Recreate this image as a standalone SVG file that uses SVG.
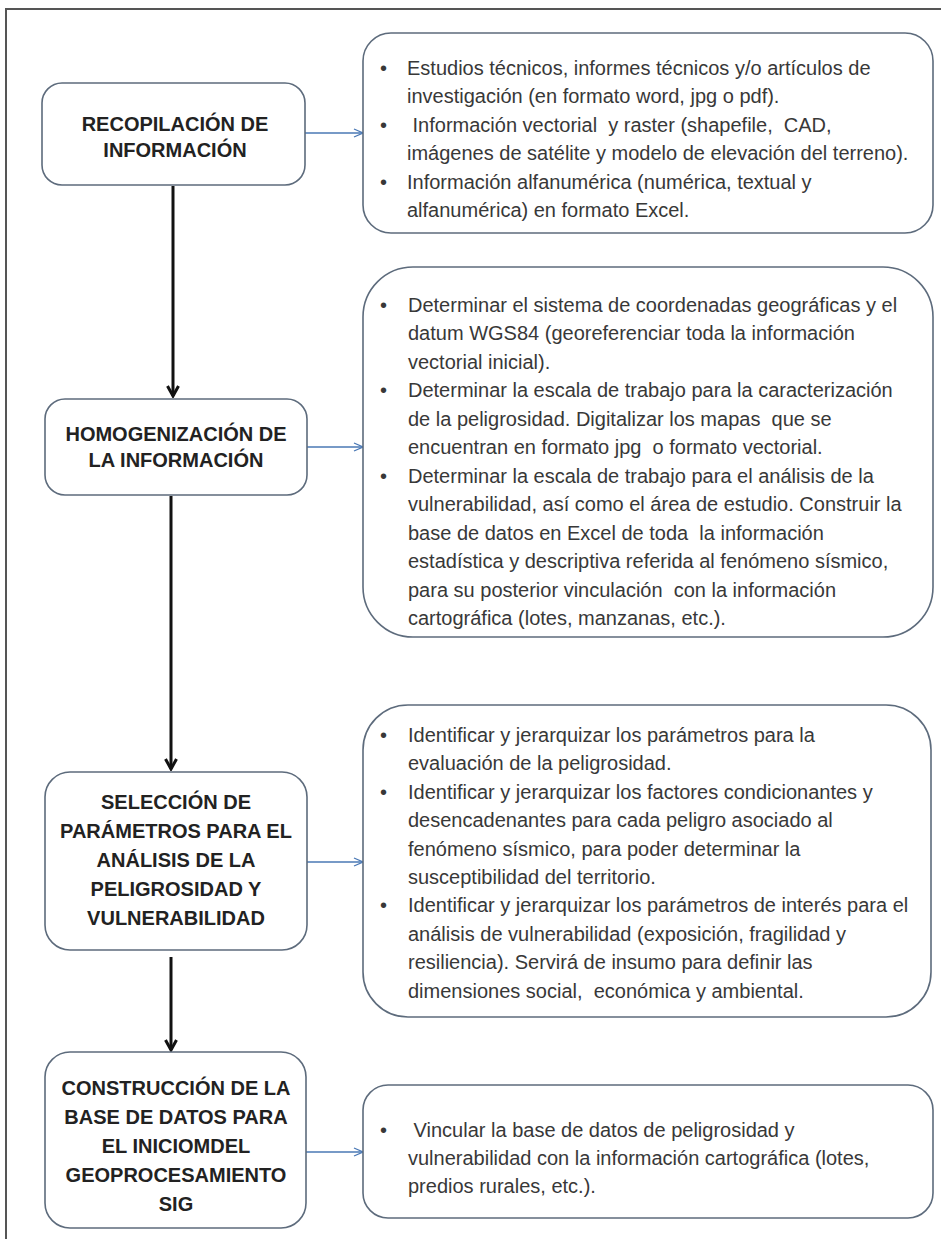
<svg xmlns="http://www.w3.org/2000/svg" width="941" height="1239" viewBox="0 0 941 1239">
<style>
.frame{fill:none;stroke:#555;stroke-width:2}
.lbox{fill:#fff;stroke:#5d6b7c;stroke-width:1.6}
.rbox{fill:#fff;stroke:#5d6b7c;stroke-width:1.6}
.lt{font-family:"Liberation Sans",Arial,sans-serif;font-weight:bold;font-size:20px;fill:#222;text-anchor:middle}
.rt{font-family:"Liberation Sans",Arial,sans-serif;font-size:20px;fill:#383838}
.blue{stroke:#4a78b5;stroke-width:1.4;fill:none}
.black{stroke:#111;stroke-width:3;fill:none}
</style>
<defs>
<marker id="ab" viewBox="0 0 10 10" refX="10" refY="5" markerWidth="10" markerHeight="10" markerUnits="userSpaceOnUse" orient="auto">
<path d="M1,1 L10,5 L1,9" fill="none" stroke="#4a78b5" stroke-width="1.3"/>
</marker>
<marker id="ak" viewBox="0 0 14 14" refX="12" refY="7" markerWidth="14" markerHeight="14" markerUnits="userSpaceOnUse" orient="auto">
<path d="M2,1.5 L12,7 L2,12.5" fill="none" stroke="#111" stroke-width="3"/>
</marker>
</defs>
<rect width="941" height="1239" fill="#fff"/>
<path class="frame" d="M6,1239 V9 H941"/>

<g id="connectors">
<line class="black" x1="173" y1="186" x2="173" y2="396" marker-end="url(#ak)"/>
<line class="black" x1="171" y1="496" x2="171" y2="769" marker-end="url(#ak)"/>
<line class="black" x1="171" y1="957" x2="171" y2="1050" marker-end="url(#ak)"/>
<line class="blue" x1="305" y1="133" x2="363" y2="133" marker-end="url(#ab)"/>
<line class="blue" x1="307" y1="447" x2="363" y2="447" marker-end="url(#ab)"/>
<line class="blue" x1="307" y1="862" x2="363" y2="862" marker-end="url(#ab)"/>
<line class="blue" x1="306" y1="1152" x2="363" y2="1152" marker-end="url(#ab)"/>
</g>

<g id="n1">
<rect class="lbox" x="42" y="83" width="263" height="102" rx="20"/>
<text class="lt" x="175" y="131">RECOPILACIÓN DE</text>
<text class="lt" x="175" y="157">INFORMACIÓN</text>
</g>
<g id="n2">
<rect class="lbox" x="45" y="399" width="262" height="96" rx="20"/>
<text class="lt" x="176" y="441">HOMOGENIZACIÓN DE</text>
<text class="lt" x="176" y="467">LA INFORMACIÓN</text>
</g>
<g id="n3">
<rect class="lbox" x="45" y="772" width="262" height="178" rx="25"/>
<text class="lt" x="176" y="809">SELECCIÓN DE</text>
<text class="lt" x="176" y="838">PARÁMETROS PARA EL</text>
<text class="lt" x="176" y="867">ANÁLISIS DE LA</text>
<text class="lt" x="176" y="896">PELIGROSIDAD Y</text>
<text class="lt" x="176" y="925">VULNERABILIDAD</text>
</g>
<g id="n4">
<rect class="lbox" x="45" y="1052" width="261" height="176" rx="25"/>
<text class="lt" x="176" y="1095">CONSTRUCCIÓN DE LA</text>
<text class="lt" x="176" y="1124">BASE DE DATOS PARA</text>
<text class="lt" x="176" y="1153">EL INICIOMDEL</text>
<text class="lt" x="176" y="1182">GEOPROCESAMIENTO</text>
<text class="lt" x="176" y="1211">SIG</text>
</g>

<g id="r1">
<rect class="rbox" x="363" y="33" width="570" height="200" rx="28"/>
<text class="rt" x="380" y="75">•</text>
<text class="rt" x="407" y="75">Estudios técnicos, informes técnicos y/o artículos de</text>
<text class="rt" x="407" y="103">investigación (en formato word, jpg o pdf).</text>
<text class="rt" x="380" y="132">•</text>
<text class="rt" x="407" y="132" xml:space="preserve"> Información vectorial  y raster (shapefile,  CAD,</text>
<text class="rt" x="407" y="160">imágenes de satélite y modelo de elevación del terreno).</text>
<text class="rt" x="380" y="189">•</text>
<text class="rt" x="407" y="189">Información alfanumérica (numérica, textual y</text>
<text class="rt" x="407" y="217">alfanumérica) en formato Excel.</text>
</g>

<g id="r2">
<rect class="rbox" x="363" y="267" width="570" height="370" rx="50"/>
<text class="rt" x="380" y="312">•</text>
<text class="rt" x="408" y="312">Determinar el sistema de coordenadas geográficas y el</text>
<text class="rt" x="408" y="340">datum WGS84 (georeferenciar toda la información</text>
<text class="rt" x="408" y="369">vectorial inicial).</text>
<text class="rt" x="380" y="397">•</text>
<text class="rt" x="408" y="397">Determinar la escala de trabajo para la caracterización</text>
<text class="rt" x="408" y="426" xml:space="preserve">de la peligrosidad. Digitalizar los mapas  que se</text>
<text class="rt" x="408" y="454" xml:space="preserve">encuentran en formato jpg  o formato vectorial.</text>
<text class="rt" x="380" y="483">•</text>
<text class="rt" x="408" y="483">Determinar la escala de trabajo para el análisis de la</text>
<text class="rt" x="408" y="511">vulnerabilidad, así como el área de estudio. Construir la</text>
<text class="rt" x="408" y="540" xml:space="preserve">base de datos en Excel de toda  la información</text>
<text class="rt" x="408" y="568">estadística y descriptiva referida al fenómeno sísmico,</text>
<text class="rt" x="408" y="597" xml:space="preserve">para su posterior vinculación  con la información</text>
<text class="rt" x="408" y="625">cartográfica (lotes, manzanas, etc.).</text>
</g>

<g id="r3">
<rect class="rbox" x="363" y="705" width="568" height="312" rx="45"/>
<text class="rt" x="380" y="742">•</text>
<text class="rt" x="408" y="742">Identificar y jerarquizar los parámetros para la</text>
<text class="rt" x="408" y="770">evaluación de la peligrosidad.</text>
<text class="rt" x="380" y="799">•</text>
<text class="rt" x="408" y="799">Identificar y jerarquizar los factores condicionantes y</text>
<text class="rt" x="408" y="827">desencadenantes para cada peligro asociado al</text>
<text class="rt" x="408" y="856">fenómeno sísmico, para poder determinar la</text>
<text class="rt" x="408" y="884">susceptibilidad del territorio.</text>
<text class="rt" x="380" y="912">•</text>
<text class="rt" x="408" y="912">Identificar y jerarquizar los parámetros de interés para el</text>
<text class="rt" x="408" y="941">análisis de vulnerabilidad (exposición, fragilidad y</text>
<text class="rt" x="408" y="969">resiliencia). Servirá de insumo para definir las</text>
<text class="rt" x="408" y="998" xml:space="preserve">dimensiones social,  económica y ambiental.</text>
</g>

<g id="r4">
<rect class="rbox" x="363" y="1085" width="570" height="133" rx="25"/>
<text class="rt" x="380" y="1137">•</text>
<text class="rt" x="408" y="1137" xml:space="preserve"> Vincular la base de datos de peligrosidad y</text>
<text class="rt" x="408" y="1165">vulnerabilidad con la información cartográfica (lotes,</text>
<text class="rt" x="408" y="1193">predios rurales, etc.).</text>
</g>
</svg>
